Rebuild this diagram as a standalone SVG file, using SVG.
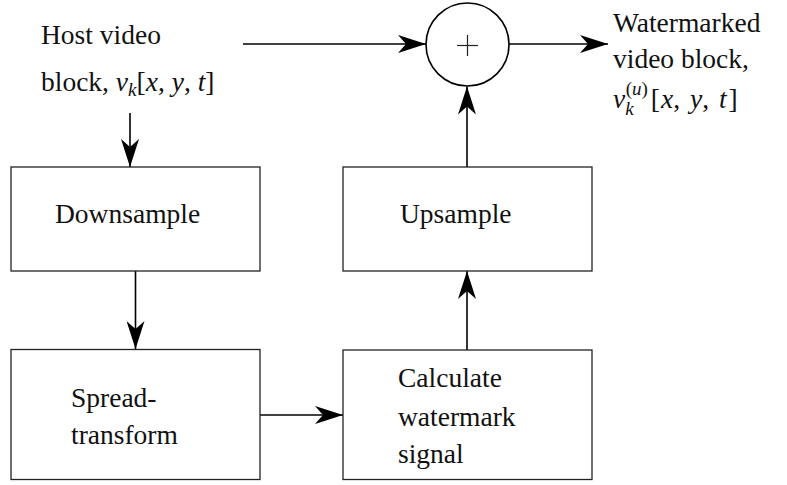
<svg xmlns="http://www.w3.org/2000/svg" width="787" height="485" viewBox="0 0 787 485">
<style>
  .box { fill: #fff; stroke: #222; stroke-width: 1.3; }
  .lbl { font-family: "Liberation Serif", "Times New Roman", serif; font-size: 27.5px; fill: #111; }
  .it { font-style: italic; }
  .conn { stroke: #000; stroke-width: 1.6; fill: none; }
</style>
<defs>
  <marker id="ah" viewBox="0 0 28 18" refX="28" refY="9" markerWidth="28" markerHeight="18" markerUnits="userSpaceOnUse" orient="auto">
    <path d="M0,0 L28,9 L0,18 L8,9 Z" fill="#000"/>
  </marker>
</defs>

<g id="connectors">
  <line class="conn" x1="130" y1="113" x2="130" y2="167" marker-end="url(#ah)"/>
  <line class="conn" x1="135.5" y1="271" x2="135.5" y2="349" marker-end="url(#ah)"/>
  <line class="conn" x1="260" y1="415" x2="343" y2="415" marker-end="url(#ah)"/>
  <line class="conn" x1="467" y1="350" x2="467" y2="271" marker-end="url(#ah)"/>
  <line class="conn" x1="467" y1="167" x2="467" y2="86.5" marker-end="url(#ah)"/>
  <line class="conn" x1="243" y1="44" x2="426" y2="44" marker-end="url(#ah)"/>
  <line class="conn" x1="509" y1="44" x2="608" y2="44" marker-end="url(#ah)"/>
</g>

<g id="host">
  <text class="lbl" x="41" y="44">Host video</text>
  <text class="lbl" x="41" y="91">block, <tspan class="it">v</tspan><tspan class="it" font-size="19" dy="5">k</tspan><tspan dy="-5">[</tspan><tspan class="it">x</tspan>, <tspan class="it">y</tspan>, <tspan class="it">t</tspan>]</text>
</g>

<g id="downsample">
  <rect class="box" x="11" y="167" width="249" height="104"/>
  <text class="lbl" x="55" y="223">Downsample</text>
</g>

<g id="spread">
  <rect class="box" x="11" y="349.5" width="249" height="130"/>
  <text class="lbl" x="71" y="407">Spread-</text>
  <text class="lbl" x="71" y="444">transform</text>
</g>

<g id="upsample">
  <rect class="box" x="343" y="167" width="249" height="104"/>
  <text class="lbl" x="400" y="223">Upsample</text>
</g>

<g id="calculate">
  <rect class="box" x="343" y="350" width="249" height="129.5"/>
  <text class="lbl" x="398" y="387">Calculate</text>
  <text class="lbl" x="398" y="426">watermark</text>
  <text class="lbl" x="398" y="463">signal</text>
</g>

<g id="adder">
  <circle cx="467.5" cy="44.5" r="41.5" fill="#fff" stroke="#000" stroke-width="1.6"/>
  <line x1="457" y1="45.5" x2="478" y2="45.5" stroke="#222" stroke-width="1.2"/>
  <line x1="467.5" y1="35" x2="467.5" y2="56" stroke="#222" stroke-width="1.2"/>
</g>

<g id="output">
  <text class="lbl" x="613" y="32">Watermarked</text>
  <text class="lbl" x="613" y="68">video block,</text>
  <text class="lbl" x="613" y="108"><tspan class="it">v</tspan><tspan class="it" font-size="19" dy="7">k</tspan><tspan font-size="19" dx="-8" dy="-20">(<tspan class="it">u</tspan>)</tspan><tspan dx="3" dy="13">[</tspan><tspan class="it" dx="1">x</tspan>, <tspan class="it" dx="3">y</tspan>, <tspan class="it" dx="3">t</tspan><tspan dx="2">]</tspan></text>
</g>
</svg>
